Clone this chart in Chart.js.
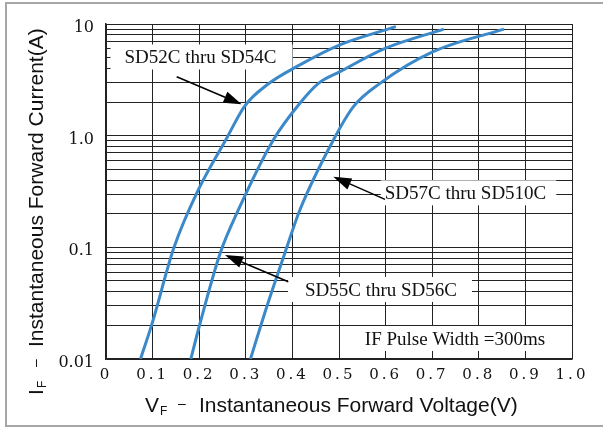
<!DOCTYPE html>
<html>
<head>
<meta charset="utf-8">
<script src="https://cdn.jsdelivr.net/npm/chart.js@4.4.1/dist/chart.umd.min.js"></script>
<style>
  html, body { margin: 0; padding: 0; background: #fff; }
  canvas { display: block; }
</style>
</head>
<body>
<canvas id="fwdChart" width="603" height="428"></canvas>
<script>
// Axis ticks
const xTickValues = [0, 0.1, 0.2, 0.3, 0.4, 0.5, 0.6, 0.7, 0.8, 0.9, 1.0];
const xTickLabels = ['0', '0.1', '0.2', '0.3', '0.4', '0.5', '0.6', '0.7', '0.8', '0.9', '1.0'];
const yTickValues = [0.01, 0.1, 1, 10];
const yTickLabels = ['0.01', '0.1', '1.0', '10'];

// Series names
const seriesNames = ['SD52C thru SD54C', 'SD55C thru SD56C', 'SD57C thru SD510C'];

// Curve readings: forward voltage (V) and forward current (A)
const voltsA   = [0.074, 0.098, 0.146, 0.198, 0.259, 0.298, 0.345, 0.416, 0.502, 0.622];
const currentA = [0.01, 0.0202, 0.1, 0.327, 0.95, 1.85, 2.84, 4.3, 6.5, 9.46];

const voltsB   = [0.182, 0.202, 0.245, 0.284, 0.359, 0.416, 0.456, 0.502, 0.599, 0.725];
const currentB = [0.01, 0.021, 0.0886, 0.216, 0.915, 1.95, 2.94, 3.74, 6.05, 9.0];

const voltsC   = [0.31, 0.345, 0.388, 0.416, 0.488, 0.531, 0.588, 0.702, 0.854];
const currentC = [0.01, 0.0294, 0.1, 0.216, 0.915, 1.82, 2.94, 5.65, 9.0];

const noteText = 'IF Pulse Width =300ms';

// Annotation anchors in data units (text centre x, baseline y), arrows tail -> tip
const notes = [
    { text: seriesNames[0], x: 0.2028, y: 4.43, padL: 14, padR: 16, arrow: [0.1517, 3.37, 0.291, 1.91] },
    { text: seriesNames[2], x: 0.7715, y: 0.269, padL: 4, padR: 10, arrow: [0.5987, 0.269, 0.4878, 0.429] },
    { text: seriesNames[1], x: 0.5901, y: 0.0367, padL: 17, padR: 15, arrow: [0.3912, 0.0492, 0.2554, 0.0854] },
    { text: noteText, x: 0.749, y: 0.01335, padL: 6, padR: 20, arrow: null }
];

const lineColor = '#3b89c9';
const serifFont = '"Liberation Serif", "Times New Roman", serif';
const sansFont = '"Liberation Sans", Arial, sans-serif';

function toPoints(xs, ys) {
    return xs.map((v, i) => ({ x: v, y: ys[i] }));
}

function makeSet(label, xs, ys) {
    return {
        label: label,
        data: toPoints(xs, ys),
        borderColor: lineColor,
        backgroundColor: 'transparent',
        borderWidth: 3,
        pointRadius: 0,
        cubicInterpolationMode: 'monotone'
    };
}

function drawArrow(ctx, x1, y1, x2, y2) {
    const ang = Math.atan2(y2 - y1, x2 - x1);
    const len = 18, half = 6;
    const bx = x2 - len * Math.cos(ang), by = y2 - len * Math.sin(ang);
    ctx.beginPath();
    ctx.moveTo(x1, y1);
    ctx.lineTo(bx, by);
    ctx.stroke();
    ctx.beginPath();
    ctx.moveTo(x2, y2);
    ctx.lineTo(bx + half * Math.sin(ang), by - half * Math.cos(ang));
    ctx.lineTo(bx - half * Math.sin(ang), by + half * Math.cos(ang));
    ctx.closePath();
    ctx.fill();
}

// labels boxes + arrows, drawn over the grid but under the curves
const notesPlugin = {
    id: 'notes',
    beforeDatasetsDraw(chart) {
        const ctx = chart.ctx, xs = chart.scales.x, ys = chart.scales.y;
        ctx.save();
        ctx.font = '19px ' + serifFont;
        ctx.textBaseline = 'alphabetic';
        notes.forEach(n => {
            const cx = xs.getPixelForValue(n.x), by = ys.getPixelForValue(n.y);
            const w = ctx.measureText(n.text).width;
            ctx.fillStyle = '#fff';
            ctx.fillRect(cx - w / 2 - n.padL, by - 19, w + n.padL + n.padR, 25);
            ctx.fillStyle = '#111';
            ctx.textAlign = 'center';
            ctx.fillText(n.text, cx, by);
        });
        ctx.restore();
    },
    afterDatasetsDraw(chart) {
        const ctx = chart.ctx, xs = chart.scales.x, ys = chart.scales.y;
        ctx.save();
        ctx.strokeStyle = '#000';
        ctx.fillStyle = '#000';
        ctx.lineWidth = 1.5;
        notes.forEach(n => {
            if (!n.arrow) return;
            const a = n.arrow;
            drawArrow(ctx, xs.getPixelForValue(a[0]), ys.getPixelForValue(a[1]),
                      xs.getPixelForValue(a[2]), ys.getPixelForValue(a[3]));
        });
        ctx.restore();
    }
};

// axis titles with subscript F, and the outer frame
const titlesPlugin = {
    id: 'titles',
    beforeDraw(chart) {
        const sx = chart.scales.x;
        if (sx && !sx._spaced) {
            const orig = sx.drawLabels.bind(sx);
            sx.drawLabels = function (area) {
                const c = this.ctx;
                c.save();
                c.letterSpacing = '3px';
                orig(area);
                c.restore();
            };
            sx._spaced = true;
        }
    },
    afterDraw(chart) {
        const ctx = chart.ctx;
        ctx.save();
        ctx.fillStyle = '#111';
        ctx.textBaseline = 'alphabetic';
        ctx.textAlign = 'left';

        // x title
        let x0 = 145, y0 = 411.5;
        ctx.font = '21px ' + sansFont;
        ctx.fillText('V', x0, y0);
        ctx.font = '12px ' + sansFont;
        ctx.fillText('F', x0 + 15, y0 + 3);
        ctx.font = '14px ' + sansFont;
        ctx.fillText('\u2013', x0 + 33, y0 - 4);
        ctx.font = '21px ' + sansFont;
        ctx.fillText('Instantaneous Forward Voltage(V)', x0 + 54, y0);

        // y title
        ctx.translate(43, 395);
        ctx.rotate(-Math.PI / 2);
        ctx.font = '21px ' + sansFont;
        ctx.fillText('I', 0, 0);
        ctx.font = '12px ' + sansFont;
        ctx.fillText('F', 7, 3);
        ctx.font = '14px ' + sansFont;
        ctx.fillText('\u2013', 28, -3);
        ctx.font = '21px ' + sansFont;
        ctx.fillText('Instantaneous Forward Current(A)', 48, 0);
        ctx.restore();

        // frame
        ctx.save();
        ctx.strokeStyle = '#a6a6a6';
        ctx.lineWidth = 2;
        ctx.beginPath();
        ctx.moveTo(620, 3);
        ctx.lineTo(6, 3);
        ctx.lineTo(6, 426);
        ctx.lineTo(620, 426);
        ctx.stroke();
        ctx.restore();
    }
};

function buildChart() {
    const ctx = document.getElementById('fwdChart').getContext('2d');
    new Chart(ctx, {
        type: 'line',
        data: {
            datasets: [
                makeSet(seriesNames[0], voltsA, currentA),
                makeSet(seriesNames[1], voltsB, currentB),
                makeSet(seriesNames[2], voltsC, currentC)
            ]
        },
        options: {
            responsive: false,
            animation: false,
            layout: { padding: { left: 0, top: 24, right: 31, bottom: 0 } },
            plugins: {
                legend: { display: false },
                tooltip: { enabled: false },
                title: { display: false }
            },
            scales: {
                x: {
                    type: 'linear',
                    min: 0,
                    max: 1,
                    afterBuildTicks: (scale) => {
                        scale.ticks = xTickValues.map(v => ({ value: v }));
                    },
                    afterFit: (scale) => { scale.height = 69; },
                    ticks: {
                        autoSkip: false,
                        maxRotation: 0,
                        padding: 7,
                        color: '#111',
                        font: { family: '"DejaVu Serif", serif', size: 15 },
                        callback: (value, i) => xTickLabels[i]
                    },
                    grid: { color: '#222', lineWidth: 1, drawTicks: false },
                    border: { color: '#222', width: 1.5 }
                },
                y: {
                    type: 'logarithmic',
                    min: 0.01,
                    max: 10,
                    afterBuildTicks: (scale) => {
                        const vals = [];
                        [0.01, 0.1, 1].forEach(d => {
                            for (let k = 1; k <= 9; k++) vals.push(+(d * k).toPrecision(6));
                        });
                        vals.push(10);
                        scale.ticks = vals.map(v => ({ value: v }));
                    },
                    afterFit: (scale) => { scale.width = 106; },
                    ticks: {
                        autoSkip: false,
                        padding: 12,
                        labelOffset: 4,
                        color: '#111',
                        font: { family: '"DejaVu Serif", serif', size: 16 },
                        callback: (value) => {
                            const i = yTickValues.findIndex(t => Math.abs(t - value) < t * 1e-6);
                            return i >= 0 ? yTickLabels[i] : '';
                        }
                    },
                    grid: { color: '#222', lineWidth: 1, drawTicks: false },
                    border: { color: '#222', width: 1.5 }
                }
            }
        },
        plugins: [notesPlugin, titlesPlugin]
    });
}

document.addEventListener('DOMContentLoaded', buildChart);
</script>
</body>
</html>
